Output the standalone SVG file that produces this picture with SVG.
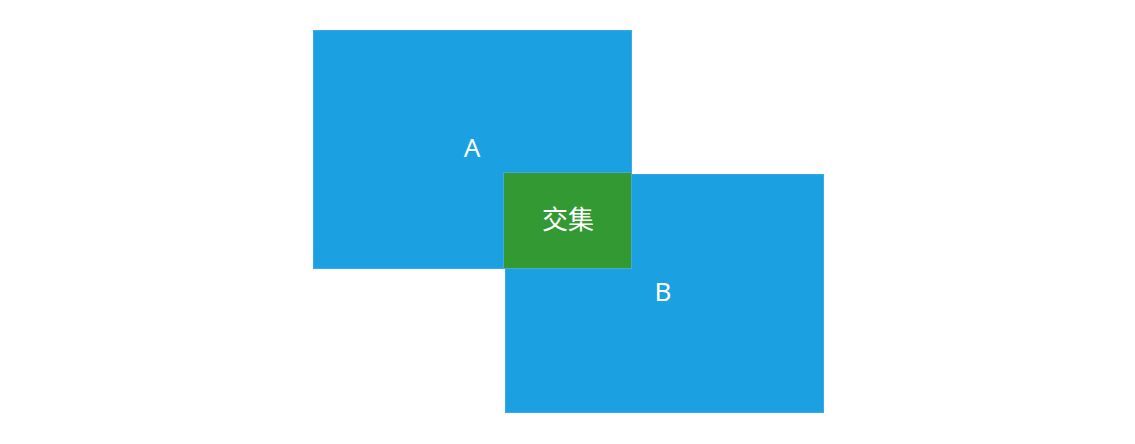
<svg xmlns="http://www.w3.org/2000/svg" width="1135" height="444" viewBox="0 0 1135 444">
<style>
.box{fill:#1ba1e2;stroke:#3aa9e4;stroke-width:1}
.inter{fill:#339933;stroke:#4aa8d8;stroke-width:1}
.lbl{fill:#ffffff;font-family:"Noto Sans","Noto Sans CJK SC",sans-serif;font-size:26px;text-anchor:middle}
</style>
<rect width="1135" height="444" fill="#ffffff"/>
<g id="nodeA">
<rect class="box" x="313.5" y="30.5" width="318" height="238"/>
<text class="lbl" x="472" y="157">A</text>
</g>
<g id="nodeB">
<rect class="box" x="505.5" y="174.5" width="318" height="238"/>
<text class="lbl" x="663" y="301">B</text>
</g>
<g id="intersection">
<rect class="inter" x="503.5" y="172.5" width="128" height="96"/>
<text class="lbl" x="568" y="229">交集</text>
</g>
<g id="connectors"/>
</svg>
